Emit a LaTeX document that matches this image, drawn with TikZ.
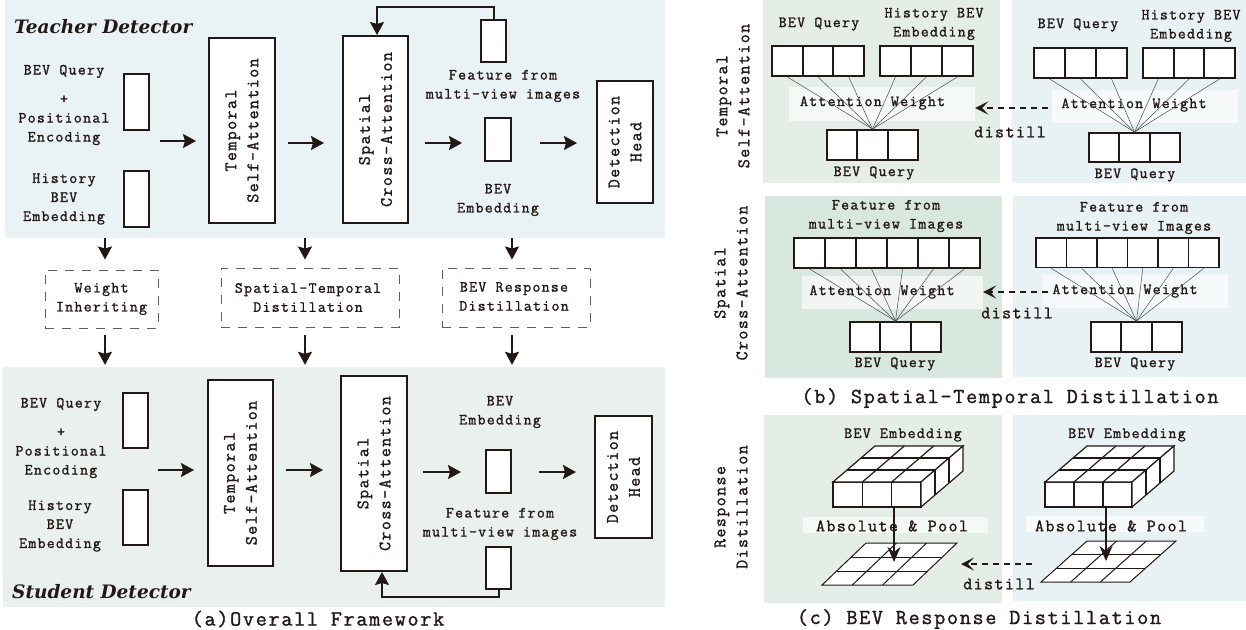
\documentclass[tikz,border=0pt]{standalone}
\usepackage{fontspec}
\usetikzlibrary{arrows.meta}
\newfontfamily\monof{Latin Modern Mono}[LetterSpace=8,FakeBold=1.3]
\newfontfamily\titlef{DejaVu Serif}
\definecolor{ink}{RGB}{35,24,21}
\definecolor{teachbg}{RGB}{233,242,244}
\definecolor{studbg}{RGB}{234,241,236}
\definecolor{gA}{RGB}{228,238,231}
\definecolor{gB}{RGB}{217,232,222}
\definecolor{bA}{RGB}{232,242,244}
\newcommand\cellrow[6]{%
  \foreach \i in {1,...,#4}{%
    \node[cell, minimum width=#5pt, minimum height=#6pt] (#1-\i) at ({#2+(\i-0.5)*#5},{#3+#6/2}) {};
  }}
\newcommand\bevcube[4]{%
  \begin{scope}[shift={(#2,#3)}]
    \filldraw[cubeln] (0,0) rectangle (#4,25);
    \filldraw[cubeln] (0,0) -- (#4,0) -- ({#4+42},-36) -- (42,-36) -- cycle;
    \filldraw[cubeln] (#4,0) -- ({#4+42},-36) -- ({#4+42},-11) -- (#4,25) -- cycle;
    \foreach \t in {1,2}{%
      \draw[cubeln] ({14*\t},{-12*\t}) -- ({#4+14*\t},{-12*\t});
      \draw[cubeln] ({#4*\t/3},0) -- ({#4*\t/3+42},-36);
      \draw[cubeln] ({#4*\t/3},0) -- ({#4*\t/3},25);
      \draw[cubeln] ({#4+14*\t},{-12*\t}) -- ({#4+14*\t},{25-12*\t});
    }
    \coordinate (#1-bot) at (61,25);
  \end{scope}}
\newcommand\flatgrid[7]{%
  \begin{scope}[shift={(#2,#3)}]
    \filldraw[gridln] (0,0) -- (#4,0) -- ({#4+#5},#6) -- (#5,#6) -- cycle;
    \foreach \t in {1,2}{%
      \draw[gridln] ({#5*\t/3},{#6*\t/3}) -- ({#4+#5*\t/3},{#6*\t/3});
      \draw[gridln] ({#4*\t/3},0) -- ({#4*\t/3+#5},#6);
    }
    \coordinate (#1-tip) at (#7);
  \end{scope}}
\begin{document}
\begin{tikzpicture}[x=1pt,y=-1pt,
  lbl/.style={font=\monof\fontsize{15.5}{19}\selectfont, align=center, inner sep=0pt, text=ink},
  big/.style={font=\monof\fontsize{17.5}{22}\selectfont, align=center, inner sep=0pt, text=ink},
  capt/.style={font=\monof\fontsize{21.5}{26}\selectfont, inner sep=0pt, text=ink},
  ttl/.style={font=\titlef\bfseries\itshape\fontsize{18.5}{22}\selectfont, inner sep=0pt, text=ink, anchor=west},
  blk/.style={draw=ink, line width=2pt, fill=white, inner sep=0pt},
  dbox/.style={draw=gray!75!black, line width=1pt, dash pattern=on 9pt off 8pt, inner sep=0pt},
  arr/.style={draw=ink, line width=2pt, -{Stealth[length=13pt,width=14pt,inset=2pt]}},
  darr/.style={draw=ink, line width=2pt, dash pattern=on 6pt off 5pt, -{Stealth[length=13pt,width=13pt,inset=6pt]}},
  varr/.style={draw=ink, line width=2pt, -{Stealth[length=15pt,width=13pt,inset=5pt]}},
  cell/.style={draw=ink, line width=1.8pt, fill=white, inner sep=0pt},
  attn/.style={draw=gray!60!black, line width=0.5pt},
  band/.style={fill=white, fill opacity=0.65, draw=none, inner sep=0pt},
  panel/.style={draw=none, inner sep=0pt},
  cubeln/.style={draw=ink, line width=1.2pt, fill=white},
  gridln/.style={draw=ink, line width=1pt, fill=white},
]
\useasboundingbox (0,0) rectangle (1246,629);

% ================= (a) Overall Framework =================
\node[panel, fill=teachbg, minimum width=660pt, minimum height=238pt] (tpanel) at (335,119) {};
\node[panel, fill=studbg, minimum width=662pt, minimum height=240pt] (spanel) at (334,487) {};

% ---- teacher ----
\node[ttl] (tname) at (14,27) {Teacher Detector};
\node[lbl] (tqtxt) at (64,105) {BEV Query\\[10pt]+\\Positional\\Encoding};
\node[lbl] (thtxt) at (64,199) {History\\BEV\\Embedding};
\node[blk, minimum width=25pt, minimum height=56pt] (tq) at (136.5,102) {};
\node[blk, minimum width=25pt, minimum height=56pt] (th) at (136.5,199) {};
\node[blk, minimum width=66pt, minimum height=185pt] (tsa) at (242,130.5) {};
\node[big, rotate=90] (tsatxt) at (tsa.center) {Temporal\\Self-Attention};
\node[blk, minimum width=65pt, minimum height=187pt] (sca) at (375.5,129.5) {};
\node[big, rotate=90] (scatxt) at (sca.center) {Spatial\\Cross-Attention};
\node[blk, minimum width=25pt, minimum height=42pt] (tf) at (493.5,41) {};
\node[lbl] (tftxt) at (503,86) {Feature from\\multi-view images};
\node[blk, minimum width=26pt, minimum height=43pt] (te) at (498,139.5) {};
\node[lbl] (tetxt) at (498,200) {BEV\\Embedding};
\node[blk, minimum width=56pt, minimum height=122pt] (tdh) at (625,142) {};
\node[big, rotate=90] (tdhtxt) at (tdh.center) {Detection\\Head};

\coordinate (ta1) at (160,141);
\coordinate (ta2) at (288,143);
\coordinate (ta3) at (425,143);
\coordinate (ta4) at (540,143);
\draw[arr, shorten >=12pt] (ta1) -- (ta1 -| tsa.west);
\draw[arr, shorten >=18pt] (ta2) -- (ta2 -| sca.west);
\draw[arr, shorten >=22pt] (ta3) -- (ta3 -| te.west);
\draw[arr, shorten >=19pt] (ta4) -- (ta4 -| tdh.west);
\coordinate (tfb) at (377,7);
\draw[arr] (tf.north) |- (tfb) -- (tfb |- sca.north);

% ---- middle dashed boxes ----
\node[dbox, minimum width=113pt, minimum height=58pt] (wi) at (101.5,299) {};
\node[lbl] (witxt) at (101.5,299) {Weight\\Inheriting};
\node[dbox, minimum width=178pt, minimum height=59pt] (st) at (310,297.5) {};
\node[lbl] (sttxt) at (308,297.5) {Spatial-Temporal\\Distillation};
\node[dbox, minimum width=148pt, minimum height=59pt] (br) at (516,297.5) {};
\node[lbl] (brtxt) at (514,296.5) {BEV Response\\Distillation};

\coordinate (d1) at (105,238);
\coordinate (d2) at (305,238);
\coordinate (d3) at (512,238);
\draw[arr, shorten >=10pt] (d1) -- (d1 |- wi.north);
\draw[arr, shorten >=8pt] (d2) -- (d2 |- st.north);
\draw[arr, shorten >=8pt] (d3) -- (d3 |- br.north);
\coordinate (e1) at (105,335);
\coordinate (e2) at (305,335);
\coordinate (e3) at (512,335);
\draw[arr, shorten >=2pt] (e1) -- (e1 |- spanel.north);
\draw[arr, shorten >=2pt] (e2) -- (e2 |- spanel.north);
\draw[arr, shorten >=2pt] (e3) -- (e3 |- spanel.north);

% ---- student ----
\node[lbl] (sqtxt) at (61,438) {BEV Query\\[10pt]+\\Positional\\Encoding};
\node[lbl] (shtxt) at (60,526) {History\\BEV\\Embedding};
\node[blk, minimum width=25pt, minimum height=55pt] (sq) at (135.5,420.5) {};
\node[blk, minimum width=25pt, minimum height=55pt] (sh) at (135.5,517.5) {};
\node[blk, minimum width=65pt, minimum height=186pt] (stsa) at (240.5,473) {};
\node[big, rotate=90] (stsatxt) at (stsa.center) {Temporal\\Self-Attention};
\node[blk, minimum width=66pt, minimum height=195pt] (ssca) at (374,473.5) {};
\node[big, rotate=90] (sscatxt) at (ssca.center) {Spatial\\Cross-Attention};
\node[lbl] (setxt) at (500,412) {BEV\\Embedding};
\node[blk, minimum width=25pt, minimum height=43pt] (se) at (498.5,471.5) {};
\node[lbl] (sftxt) at (500,524) {Feature from\\multi-view images};
\node[blk, minimum width=25pt, minimum height=42pt] (sf) at (498.5,568) {};
\node[blk, minimum width=57pt, minimum height=122pt] (sdh) at (623.5,477) {};
\node[big, rotate=90] (sdhtxt) at (sdh.center) {Detection\\Head};
\node[ttl] (sname) at (12,592) {Student Detector};
\node[capt] (capa) at (318,619) {(a)Overall Framework};

\coordinate (sa1) at (158,470);
\coordinate (sa2) at (286,470);
\coordinate (sa3) at (423,472);
\coordinate (sa4) at (539,472);
\draw[arr, shorten >=13pt] (sa1) -- (sa1 -| stsa.west);
\draw[arr, shorten >=17pt] (sa2) -- (sa2 -| ssca.west);
\draw[arr, shorten >=24pt] (sa3) -- (sa3 -| se.west);
\draw[arr, shorten >=18pt] (sa4) -- (sa4 -| sdh.west);
\coordinate (sfb) at (382,597);
\draw[arr] (sf.south) |- (sfb) -- (sfb |- ssca.south);

% ================= (b) Spatial-Temporal Distillation =================
\node[panel, fill=gA, minimum width=237pt, minimum height=183pt] (p1g) at (881.5,91.5) {};
\node[panel, fill=bA, minimum width=234pt, minimum height=183pt] (p1b) at (1129,91.5) {};
\node[panel, fill=gB, minimum width=237pt, minimum height=182pt] (p2g) at (883.5,287) {};
\node[panel, fill=bA, minimum width=233pt, minimum height=181pt] (p2b) at (1129.5,286.5) {};
\node[big, rotate=90] (r1lab) at (733,96) {Temporal\\Self-Attention};
\node[big, rotate=90] (r2lab) at (731,283) {Spatial\\Cross-Attention};

% temporal, student side
\node[band, minimum width=186pt, minimum height=34pt] (tlband) at (882,104) {};
\node[lbl] (tlaw) at (872.5,103) {Attention Weight};
\cellrow{tlq}{772}{46}{3}{30.67}{30}
\cellrow{tlh}{880}{46}{3}{31}{30}
\cellrow{tlb}{827}{130}{3}{30.33}{30}
\foreach \i in {1,2,3}{\draw[attn] (tlq-\i.south) -- (tlb-2.north); \draw[attn] (tlh-\i.south) -- (tlb-2.north);}
\node[lbl] (tlql) at (819,24) {BEV Query};
\node[lbl] (tlhl) at (934,24) {History BEV\\Embedding};
\node[lbl] (tlbl) at (874,173) {BEV Query};

% temporal, teacher side
\node[band, minimum width=186pt, minimum height=33pt] (trband) at (1145,106.5) {};
\node[lbl] (traw) at (1134,105) {Attention Weight};
\cellrow{trq}{1034}{48}{3}{31}{30}
\cellrow{trh}{1143}{48}{3}{30.67}{30}
\cellrow{trb}{1089}{133}{3}{30.33}{29}
\foreach \i in {1,2,3}{\draw[attn] (trq-\i.south) -- (trb-2.north); \draw[attn] (trh-\i.south) -- (trb-2.north);}
\node[lbl] (trql) at (1078,25) {BEV Query};
\node[lbl] (trhl) at (1191,26) {History BEV\\Embedding};
\node[lbl] (trbl) at (1135,175) {BEV Query};

\coordinate (td1) at (1048,108);
\draw[darr] (td1) -- (td1 -| tlband.east);
\node[big] (td1txt) at (1010,132) {distill};

% spatial, student side
\node[band, minimum width=181pt, minimum height=33pt] (slband) at (892.5,292.5) {};
\node[lbl] (slaw) at (882,292) {Attention Weight};
\cellrow{slf}{794}{238}{6}{31}{30}
\cellrow{slb}{850}{322}{3}{30.33}{30}
\foreach \i in {1,...,6}{\draw[attn] (slf-\i.south) -- (slb-2.north);}
\node[lbl] (slfl) at (886,216) {Feature from\\multi-view Images};
\node[lbl] (slbl) at (895,364) {BEV Query};

% spatial, teacher side
\node[band, minimum width=185pt, minimum height=33pt] (srband) at (1135.5,291.5) {};
\node[lbl] (sraw) at (1125,291) {Attention Weight};
\cellrow{srf}{1036}{238}{6}{30.5}{29.5}
\cellrow{srb}{1091}{322}{3}{30.33}{30}
\foreach \i in {1,...,6}{\draw[attn] (srf-\i.south) -- (srb-2.north);}
\node[lbl] (srfl) at (1134,218) {Feature from\\multi-view Images};
\node[lbl] (srbl) at (1135,364) {BEV Query};

\coordinate (sd1) at (1048,292);
\draw[darr] (sd1) -- (sd1 -| slband.east);
\node[big] (sd1txt) at (1017,313) {distill};

\node[capt] (capb) at (1010,398) {(b) Spatial-Temporal Distillation};

% ================= (c) BEV Response Distillation =================
\node[panel, fill=gA, minimum width=238pt, minimum height=188pt] (p3g) at (883,509) {};
\node[panel, fill=bA, minimum width=233pt, minimum height=186pt] (p3b) at (1129.5,508) {};
\node[big, rotate=90] (r3lab) at (731,507) {Response\\Distillation};

\node[lbl] (rllab) at (903,435) {BEV Embedding};
\bevcube{cubeL}{833}{482}{88}
\node[band, minimum width=185pt, minimum height=16pt] (rlband) at (895.5,525) {};
\flatgrid{gridL}{822}{585}{91}{44}{-42}{72,-23}
\draw[varr] (cubeL-bot) -- (gridL-tip);
\node[big] (rlap) at (892,526) {Absolute \& Pool};

\node[lbl] (rrlab) at (1127,435) {BEV Embedding};
\bevcube{cubeR}{1045}{482}{87}
\node[band, minimum width=178pt, minimum height=16pt] (rrband) at (1115,524) {};
\flatgrid{gridR}{1041}{582}{89}{46}{-41}{65,-21}
\draw[varr] (cubeR-bot) -- (gridR-tip);
\node[big] (rrap) at (1111,526) {Absolute \& Pool};

\coordinate (rd1) at (1032,564);
\coordinate (rd2) at (961,564);
\draw[darr] (rd1) -- (rd2);
\node[big] (rd1txt) at (999,584) {distill};

\node[capt] (capc) at (979,619) {(c) BEV Response Distillation};
\end{tikzpicture}
\end{document}
